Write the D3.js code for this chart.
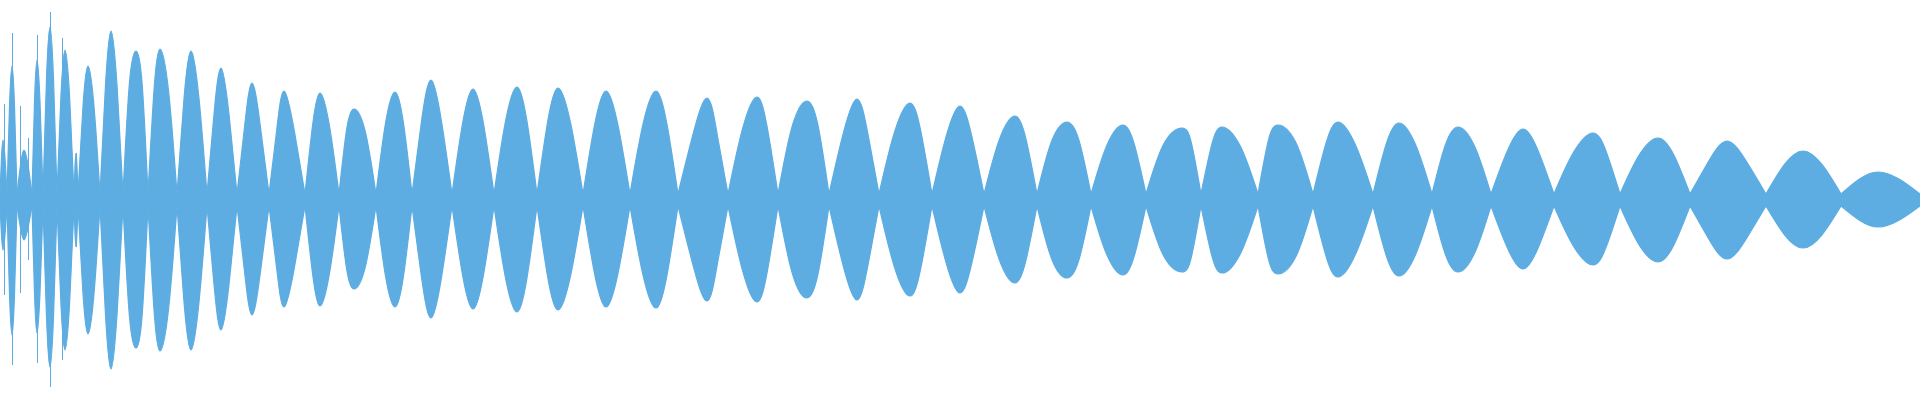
<!DOCTYPE html>
<html><head><meta charset="utf-8">
<script src="https://cdn.jsdelivr.net/npm/d3@7"></script>
<style>html,body{margin:0;padding:0;background:#fff;overflow:hidden}</style>
</head><body><svg id="chart" width="1920" height="400"></svg>
<script>
// Time in ms (beat envelope nodes where amplitude collapses)
const nodeTimes = [0, 7, 17, 32, 43, 57, 74, 78, 100, 123, 148, 177, 207, 237, 269, 305, 339, 376, 412, 452, 494, 537, 583, 630, 678, 728, 778, 829, 879, 932, 984, 1037, 1091, 1146, 1201, 1258, 1313, 1373, 1432, 1491, 1554, 1620, 1690, 1766, 1841, 1920];
// Time of maximum amplitude within each beat
const peakTimes = [3, 12, 24, 37, 50, 65, 76, 88, 111, 136, 160, 191, 221, 252, 284, 320, 354, 395, 431, 473, 517, 558, 606, 656, 707, 757, 807, 857, 910, 960, 1015, 1067, 1123, 1182, 1222, 1278, 1338, 1399, 1458, 1523, 1593, 1658, 1727, 1803, 1878];
// Positive peak amplitude per beat (full scale = 1)
const peakTop = [0.30, 0.67, 0.25, 0.70, 0.865, 0.75, 0.235, 0.67, 0.845, 0.745, 0.755, 0.745, 0.66, 0.585, 0.545, 0.535, 0.455, 0.54, 0.60, 0.555, 0.565, 0.56, 0.545, 0.545, 0.51, 0.515, 0.495, 0.505, 0.485, 0.47, 0.42, 0.39, 0.375, 0.36, 0.365, 0.375, 0.39, 0.385, 0.365, 0.355, 0.335, 0.31, 0.295, 0.245, 0.14];
// Negative peak amplitude per beat
const peakBottom = [-0.25, -0.675, -0.20, -0.665, -0.835, -0.75, -0.235, -0.67, -0.845, -0.74, -0.755, -0.75, -0.65, -0.575, -0.535, -0.53, -0.445, -0.535, -0.59, -0.545, -0.56, -0.55, -0.535, -0.54, -0.505, -0.51, -0.49, -0.50, -0.48, -0.465, -0.415, -0.39, -0.375, -0.36, -0.365, -0.37, -0.385, -0.38, -0.36, -0.345, -0.325, -0.31, -0.295, -0.24, -0.135];
// Envelope level half-way between node and peak, as a fraction of the beat's peak
const shoulderFrac = [0.7, 0.7, 0.7, 0.7, 0.7, 0.7, 0.7, 0.7, 0.68, 0.79, 0.725, 0.68, 0.65, 0.62, 0.625, 0.69, 0.765, 0.71, 0.655, 0.685, 0.695, 0.69, 0.685, 0.695, 0.625, 0.69, 0.755, 0.65, 0.70, 0.67, 0.725, 0.765, 0.735, 0.785, 0.745, 0.775, 0.705, 0.72, 0.74, 0.68, 0.71, 0.72, 0.65, 0.725, 0.75];
// Residual amplitude at the beat nodes
const nodeFloor = [0.03];
// Isolated transient spikes in the attack
const spikeTimes = [4, 12, 20, 28, 37, 50, 62, 76];
const spikeTop = [0.48, 0.835, 0.47, 0.31, 0.825, 0.94, 0.81, 0.235];
const spikeBottom = [-0.475, -0.825, -0.465, -0.30, -0.815, -0.935, -0.80, -0.235];

const W = 1920, H = 400;
const COLOR = "#5dade2";
const svg = d3.select("#chart");
const x = d3.scaleLinear().domain([0, 1920]).range([0, W]);
const y = d3.scaleLinear().domain([-1, 1]).range([H, 0]);

const nf = nodeFloor[0];
const pt = (t, i, f) => ({
  t,
  hi: Math.max(nf, peakTop[i] * f),
  lo: Math.min(-nf, peakBottom[i] * f)
});
const lobes = peakTimes.map((p, i) => {
  const a = nodeTimes[i], b = nodeTimes[i + 1], s = shoulderFrac[i];
  return [
    { t: a, hi: nf, lo: -nf },
    pt((a + p) / 2, i, s),
    pt(p, i, 1),
    pt((p + b) / 2, i, s),
    { t: b, hi: nf, lo: -nf }
  ];
});

const area = d3.area()
  .curve(d3.curveNatural)
  .x(d => x(d.t))
  .y0(d => y(d.lo))
  .y1(d => y(d.hi));

svg.append("g").selectAll("path")
  .data(lobes)
  .join("path")
  .attr("d", area)
  .attr("fill", COLOR)
  .attr("stroke", COLOR)
  .attr("stroke-width", 1.2);

svg.append("g").selectAll("rect")
  .data(spikeTimes.map((t, i) => ({ t, hi: spikeTop[i], lo: spikeBottom[i] })))
  .join("rect")
  .attr("x", d => x(d.t))
  .attr("width", d => x(d.t + 1) - x(d.t))
  .attr("y", d => y(d.hi))
  .attr("height", d => y(d.lo) - y(d.hi))
  .attr("fill", COLOR);
</script>
</body></html>
